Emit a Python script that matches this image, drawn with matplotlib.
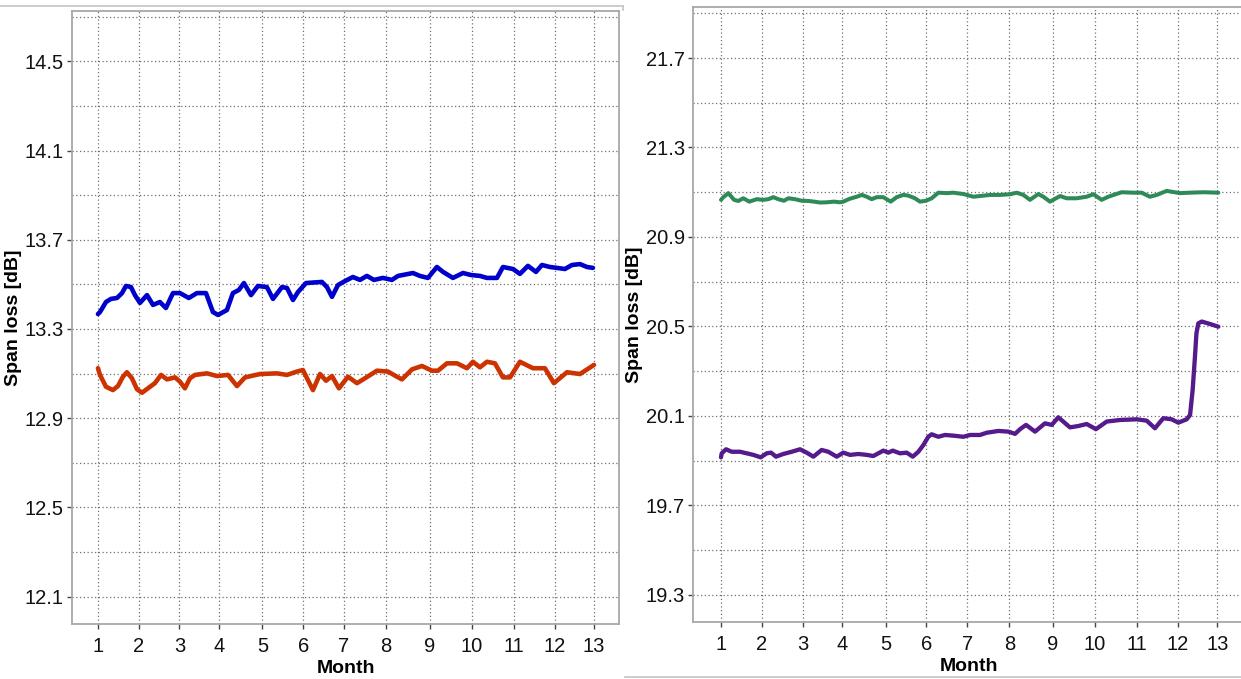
import numpy as np
import matplotlib
matplotlib.use('Agg')
import matplotlib.pyplot as plt
from matplotlib.lines import Line2D
from matplotlib.ticker import FixedLocator

plt.rcParams['font.family'] = ['Liberation Sans', 'DejaVu Sans']

# month boundaries (day offsets) and their labels
month_days = [0, 30, 60, 89, 121, 151, 181, 212, 244, 275, 306, 336, 365]
month_labels = [str(m) for m in range(1, 14)]

# span A, upper trace (blue)
a_hi_day = [0, 1.5, 5.9, 9.6, 14.0, 17.7, 20.6, 24.3, 27.2, 30.9, 36.1, 40.5, 45.6, 50.0,
            55.2, 60.3, 66.9, 72.8, 79.5, 84.6, 88.3, 94.9, 99.3, 103.7, 107.4, 112.6,
            117.7, 124.3, 128.8, 135.4, 139.1, 143.5, 147.2, 153.1, 164.8, 168.5, 172.2,
            176.6, 181.8, 187.6, 192.8, 197.9, 203.1, 209.7, 216.3, 220.8, 231.8, 236.9,
            242.8, 249.4, 253.9, 261.2, 268.6, 274.5, 281.1, 286.2, 293.6, 298.0, 305.4,
            310.5, 316.4, 322.3, 326.7, 332.6, 337.7, 343.6, 348.8, 354.7, 359.8, 364.2]
a_hi_db = [13.367, 13.376, 13.421, 13.435, 13.439, 13.461, 13.493, 13.488, 13.452, 13.417,
           13.452, 13.408, 13.421, 13.394, 13.461, 13.461, 13.439, 13.461, 13.461, 13.376,
           13.363, 13.385, 13.461, 13.475, 13.506, 13.452, 13.493, 13.488, 13.435, 13.488,
           13.484, 13.430, 13.466, 13.506, 13.511, 13.488, 13.444, 13.497, 13.515, 13.533,
           13.520, 13.538, 13.520, 13.529, 13.520, 13.538, 13.551, 13.538, 13.529, 13.578,
           13.556, 13.529, 13.551, 13.542, 13.538, 13.529, 13.529, 13.578, 13.569, 13.547,
           13.583, 13.556, 13.587, 13.578, 13.574, 13.569, 13.587, 13.591, 13.578, 13.574]

# span A, lower trace (orange)
a_lo_day = [0, 1.5, 5.9, 11.0, 14.7, 18.4, 21.3, 25.0, 28.7, 32.4, 36.8, 41.9, 46.4, 50.8,
            56.7, 60.3, 64.0, 67.7, 71.4, 80.2, 87.6, 95.7, 102.3, 108.2, 119.2, 131.7,
            139.1, 146.4, 150.8, 154.5, 158.2, 163.4, 167.8, 172.2, 177.3, 184.0, 190.6,
            196.5, 205.3, 213.4, 220.0, 223.7, 231.1, 238.4, 245.8, 250.2, 256.8, 264.2,
            271.5, 275.9, 281.1, 286.2, 292.1, 298.0, 303.2, 310.5, 320.1, 328.9, 335.5,
            345.1, 354.7, 365.0]
a_lo_db = [13.124, 13.094, 13.041, 13.026, 13.044, 13.086, 13.106, 13.079, 13.030, 13.014,
           13.034, 13.057, 13.094, 13.074, 13.083, 13.064, 13.034, 13.079, 13.094, 13.101,
           13.089, 13.094, 13.044, 13.083, 13.098, 13.101, 13.094, 13.109, 13.116, 13.071,
           13.026, 13.098, 13.068, 13.089, 13.034, 13.086, 13.057, 13.079, 13.113, 13.109,
           13.086, 13.074, 13.119, 13.134, 13.113, 13.113, 13.146, 13.146, 13.124, 13.153,
           13.128, 13.153, 13.146, 13.083, 13.083, 13.153, 13.124, 13.124, 13.057, 13.106,
           13.098, 13.139]

# span B, upper trace (green)
b_hi_day = [0, 1.7, 5.4, 9.6, 12.7, 16.4, 20.8, 26.3, 31.1, 34.8, 38.5, 42.1, 46.3, 49.5,
            54.4, 59.3, 64.2, 68.4, 72.8, 77.7, 83.1, 87.5, 89.9, 94.3, 99.8, 103.5, 107.1,
            110.8, 114.5, 119.3, 124.8, 129.2, 134.0, 137.7, 142.6, 146.3, 150.7, 154.9,
            159.8, 165.9, 170.8, 178.2, 185.5, 190.4, 197.8, 205.1, 212.5, 217.4, 222.3,
            227.2, 233.3, 237.0, 241.9, 249.3, 254.2, 261.5, 268.9, 273.8, 279.9, 284.8,
            294.6, 303.2, 309.3, 315.4, 320.4, 327.7, 337.5, 344.9, 354.6, 365.7]
b_hi_db = [21.066, 21.078, 21.096, 21.066, 21.061, 21.073, 21.058, 21.069, 21.066, 21.069,
           21.078, 21.069, 21.062, 21.073, 21.069, 21.062, 21.061, 21.058, 21.054, 21.055,
           21.058, 21.055, 21.058, 21.070, 21.080, 21.088, 21.080, 21.069, 21.078, 21.078,
           21.058, 21.078, 21.088, 21.085, 21.073, 21.058, 21.062, 21.073, 21.098, 21.096,
           21.098, 21.092, 21.080, 21.083, 21.088, 21.088, 21.091, 21.098, 21.088, 21.066,
           21.092, 21.080, 21.058, 21.083, 21.073, 21.073, 21.080, 21.091, 21.066, 21.080,
           21.100, 21.098, 21.098, 21.080, 21.088, 21.106, 21.096, 21.098, 21.100, 21.098]

# span B, lower trace (purple)
b_lo_day = [0, 0.5, 3.7, 7.9, 14.0, 18.9, 23.8, 29.2, 33.6, 36.8, 40.4, 45.8, 52.0, 58.1,
            63.0, 67.9, 74.0, 78.9, 85.1, 89.9, 94.9, 101.0, 107.1, 112.0, 115.7, 119.3,
            123.0, 126.3, 131.6, 136.5, 141.0, 145.1, 148.8, 152.4, 154.9, 159.8, 164.7,
            170.8, 178.2, 183.1, 190.4, 195.4, 203.9, 211.3, 216.2, 219.9, 224.3, 230.9,
            238.2, 243.2, 248.0, 256.6, 262.7, 268.9, 275.7, 283.6, 293.4, 305.7, 313.0,
            319.1, 325.2, 331.4, 336.3, 342.4, 344.9, 346.8, 348.5, 349.6, 351.0, 353.5,
            359.6, 365.7]
b_lo_db = [19.915, 19.933, 19.951, 19.940, 19.940, 19.933, 19.926, 19.915, 19.933, 19.936,
           19.918, 19.930, 19.940, 19.951, 19.936, 19.918, 19.948, 19.940, 19.918, 19.936,
           19.926, 19.930, 19.926, 19.921, 19.933, 19.945, 19.936, 19.945, 19.933, 19.936,
           19.918, 19.940, 19.970, 20.007, 20.018, 20.007, 20.015, 20.012, 20.007, 20.015,
           20.015, 20.025, 20.033, 20.030, 20.020, 20.041, 20.060, 20.030, 20.067, 20.060,
           20.094, 20.049, 20.055, 20.064, 20.041, 20.075, 20.082, 20.085, 20.079, 20.045,
           20.090, 20.085, 20.070, 20.085, 20.104, 20.216, 20.365, 20.470, 20.514, 20.522,
           20.511, 20.499]

W, H = 1241, 679
fig = plt.figure(figsize=(W / 100, H / 100), dpi=100)
fig.patch.set_facecolor('white')


def px_axes(left, top, right, bottom):
    return fig.add_axes([left / W, 1 - bottom / H, (right - left) / W, (bottom - top) / H])


def style_axes(ax, xlim, ylim, majors, minors):
    ax.set_xlim(xlim)
    ax.set_ylim(ylim)
    ax.set_xticks(month_days)
    ax.set_xticklabels(month_labels)
    ax.yaxis.set_major_locator(FixedLocator(majors))
    ax.yaxis.set_minor_locator(FixedLocator(minors))
    ax.set_yticklabels(['%.1f' % v for v in majors])
    ax.tick_params(axis='both', which='major', labelsize=14.5, colors='#444444',
                   labelcolor='#111111', length=3.5, width=1.0)
    ax.tick_params(axis='x', pad=6)
    ax.tick_params(axis='y', pad=2.5)
    ax.tick_params(axis='y', which='minor', length=0)
    ax.grid(which='both', color='#707070', linestyle=(0, (1, 2)), linewidth=0.9)
    ax.set_axisbelow(True)
    for s in ax.spines.values():
        s.set_color('#a8a8a8')
        s.set_linewidth(1.3)
    ax.set_xlabel('Month', fontsize=14, fontweight='bold', labelpad=3)
    ax.set_ylabel('Span loss [dB]', fontsize=14, fontweight='bold', labelpad=2)


# left panel
ax1 = px_axes(72, 11, 619, 624)
style_axes(ax1, (-19.1, 383.4), (11.977, 14.726),
           np.arange(12.1, 14.51, 0.4), np.arange(12.3, 14.71, 0.4))
ax1.plot(a_hi_day, a_hi_db, color='#0000cc', lw=3.3, solid_capstyle='round')
ax1.plot(a_lo_day, a_lo_db, color='#cc3300', lw=3.3, solid_capstyle='round')

# right panel (cut at the figure edge)
ax2 = px_axes(693, 7, 1245, 622)
style_axes(ax2, (-20.6, 385.3), (19.179, 21.928),
           np.arange(19.3, 21.71, 0.4), np.arange(19.5, 21.91, 0.4))
ax2.spines['right'].set_visible(False)
ax2.plot(b_hi_day, b_hi_db, color='#2e8b57', lw=2.9, solid_capstyle='round')
ax2.plot(b_lo_day, b_lo_db, color='#551a8b', lw=3.1, solid_capstyle='round')

# thin frame lines around the two panels
fig.add_artist(Line2D([0, 623 / W], [1 - 6 / H, 1 - 6 / H], color='#c4c4c4', lw=1.2))
fig.add_artist(Line2D([623 / W, 623 / W], [1 - 6 / H, 1 - 10 / H], color='#c4c4c4', lw=1.2))
fig.add_artist(Line2D([625 / W, 1], [1 - 677 / H, 1 - 677 / H], color='#c4c4c4', lw=1.2))

fig.savefig('out.png', dpi=100)
